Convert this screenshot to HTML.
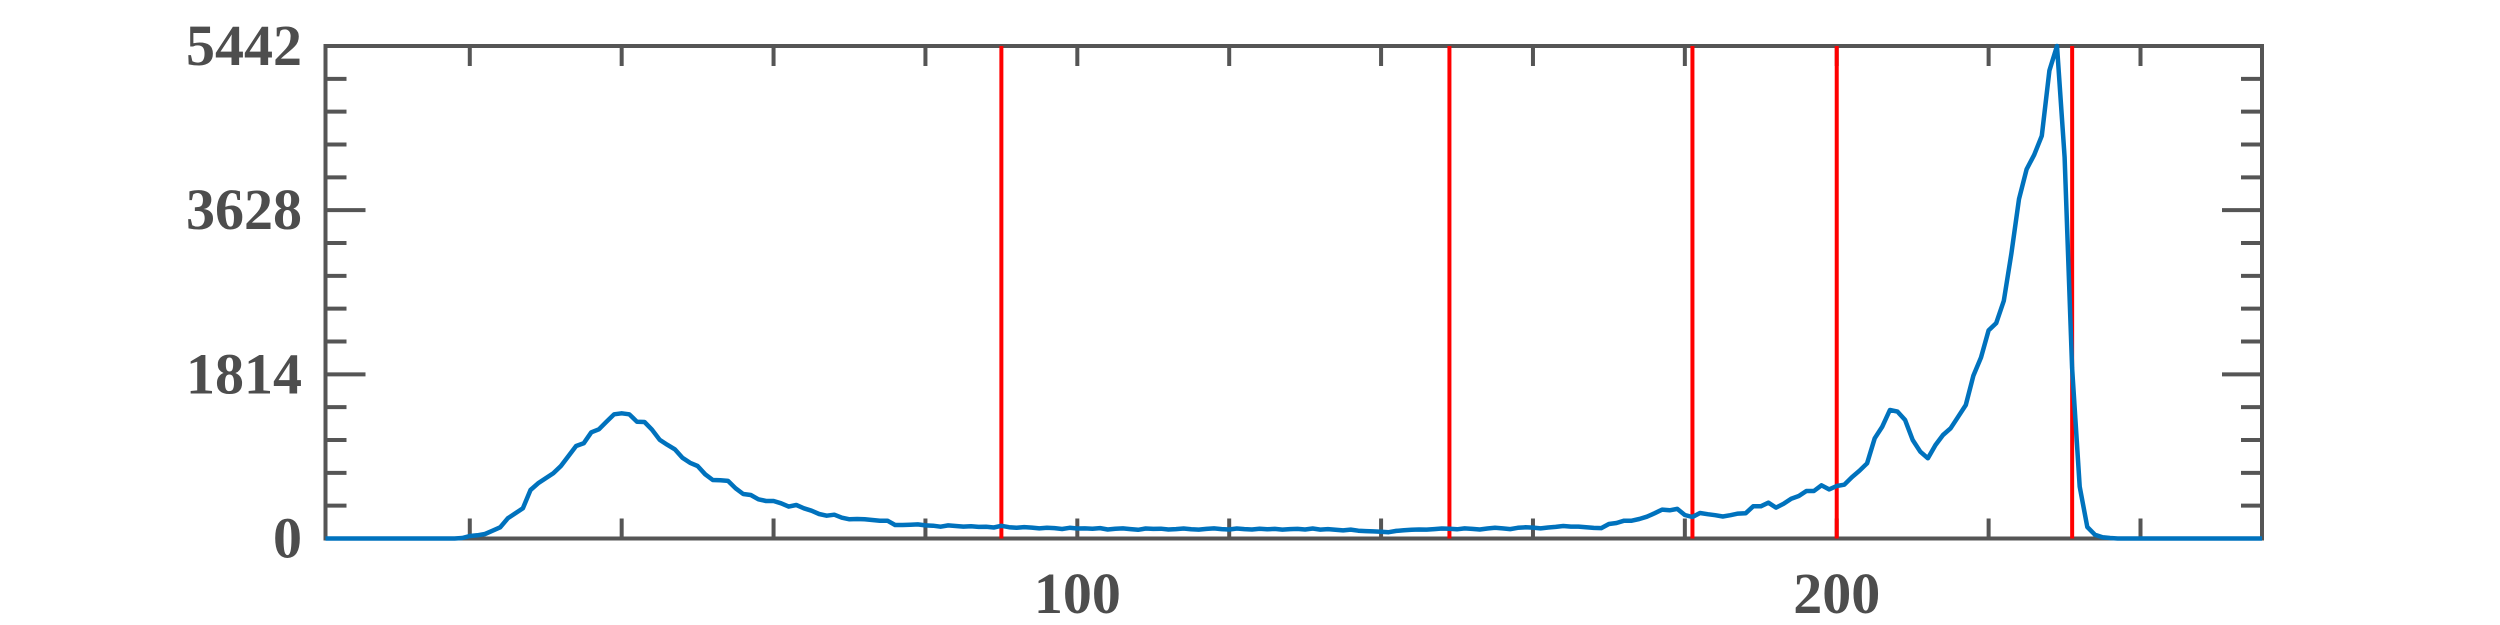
<!DOCTYPE html>
<html><head><meta charset="utf-8"><style>
html,body{margin:0;padding:0;background:#fff;}
svg{display:block;}
text{font-family:"Liberation Serif","Times New Roman",serif;font-weight:bold;fill:#4d4d4d;font-size:58px;}
</style></head><body>
<svg id="chart" width="2500" height="625" viewBox="0 0 2500 625" xmlns="http://www.w3.org/2000/svg">
<g id="grid"></g>
<g id="marks"></g>
<g id="labels"></g>
</svg>
<script>
const histValues = [
0,0,0,0,0,0,0,0,0,0,0,0,0,0,0,0,0,0,5,28,
35,50,86,124,223,279,334,536,610,665,720,801,912,1022,1052,1173,1207,1291,1372,1383,
1372,1291,1287,1202,1092,1036,986,893,837,801,709,646,643,637,555,492,481,433,414,414,
389,352,370,334,307,271,252,263,230,212,215,212,204,197,197,149,149,153,156,145,
141,130,145,138,132,135,128,130,122,140,125,118,126,120,112,118,115,105,118,110,
112,108,115,100,108,112,104,96,110,106,108,100,104,110,102,98,106,112,104,100,
110,104,100,108,102,106,98,104,106,100,
110,98,104,96,90,98,86,82,78,74,70,84,92,96,100,98,104,110,108,102,
112,106,100,110,118,112,104,118,124,120,112,122,128,138,131,131,124,117,115,160,
171,197,197,215,241,279,319,312,327,260,238,282,268,257,243,257,275,279,356,356,
396,341,383,440,470,525,525,588,543,580,594,677,749,831,1107,1236,1420,1402,1309,1088,
959,886,1033,1144,1218,1346,1475,1800,2000,2300,2380,2626,3150,3750,4080,4240,4450,5170,5442,4214,
1885,572,127,42,13,5,0,0,0,0,0,0,0,0,0,0,0,0,0,0,
0,0,0,0,0,0
];
const thresholds = [90,149,181,200,231];
const yTickLabels = [0,1814,3628,5442];
const xTickLabels = [100,200];
const xMajorTicks = [20,40,60,80,100,120,140,160,180,200,220,240];

const L=325.5,R=2262,T=46,B=538.5, XMIN=1, XMAX=256, YMAX=5442;
const xs=v=>L+(v-XMIN)/(XMAX-XMIN)*(R-L);
const ys=v=>B-v/YMAX*(B-T);
const NS="http://www.w3.org/2000/svg";
function mk(tag,attrs,parent){const e=document.createElementNS(NS,tag);for(const k in attrs)e.setAttribute(k,attrs[k]);parent.appendChild(e);return e;}
const grid=document.getElementById('grid'),marks=document.getElementById('marks'),labels=document.getElementById('labels');
const AX="#555555";
xMajorTicks.forEach(v=>{
  const t1=mk('line',{x1:xs(v),x2:xs(v),y1:B,y2:B-20,stroke:AX,'stroke-width':4},grid);
  
  
  const t2=mk('line',{x1:xs(v),x2:xs(v),y1:T,y2:T+20,stroke:AX,'stroke-width':4},grid);
  
  
});
for(let i=0;i<=15;i++){
  const v=i*YMAX/15, major=(i%5===0);
  const len=major?40:21;
  const a=mk('line',{x1:L,x2:L+len,y1:ys(v),y2:ys(v),stroke:AX,'stroke-width':4},grid);
  
  
  const b=mk('line',{x1:R,x2:R-len,y1:ys(v),y2:ys(v),stroke:AX,'stroke-width':4},grid);
  
  
}
const box=mk('rect',{x:L,y:T,width:R-L,height:B-T,fill:'none',stroke:AX,'stroke-width':4},grid);


thresholds.forEach(v=>{
  const l=mk('line',{x1:xs(v),x2:xs(v),y1:T,y2:B,stroke:'#ff0000','stroke-width':4},marks);
  
  
});
const pts=histValues.map((v,i)=>xs(i+1).toFixed(1)+','+ys(v).toFixed(1)).join(' ');
const pl=mk('polyline',{points:pts,fill:'none',stroke:'#0072BD','stroke-width':4.5,'stroke-linejoin':'round'},marks);


yTickLabels.forEach(v=>{
  const t=mk('text',{x:302,y:ys(v)+19,'text-anchor':'end'},labels);
  t.textContent=v;
  
  
});
xTickLabels.forEach(v=>{
  const t=mk('text',{x:xs(v),y:613,'text-anchor':'middle'},labels);
  t.textContent=v;
  
  
});
</script>
</body></html>
